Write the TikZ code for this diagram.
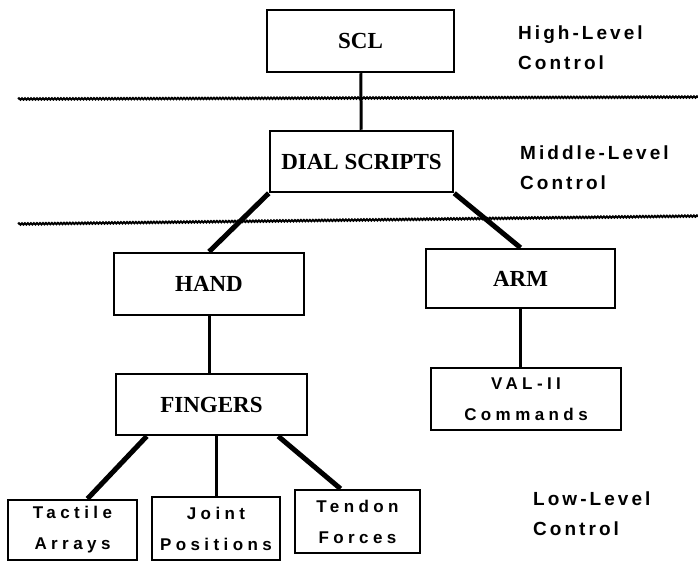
\documentclass[tikz,border=0pt]{standalone}
\usepackage{fontspec}
\setmainfont{Liberation Serif}
\newfontfamily\tierfont[LetterSpace=16]{Liberation Sans}
\newfontfamily\leaffont[LetterSpace=26]{Liberation Sans}
\usepackage{tikz}
\usetikzlibrary{decorations.pathmorphing}
\tikzstyle{block}=[rectangle,draw=black,line width=2.5pt,inner sep=0pt,font=\bfseries\fontsize{23}{26}\selectfont]
\tikzstyle{leaf}=[rectangle,draw=black,line width=2.5pt,inner sep=0pt,align=center,font=\leaffont\bfseries\fontsize{17}{31}\selectfont]
\tikzstyle{tierlabel}=[anchor=west,align=left,inner sep=0pt,font=\tierfont\bfseries\fontsize{19}{30}\selectfont]
\tikzstyle{thin link}=[line width=3pt]
\tikzstyle{heavy link}=[line width=5pt]
\tikzstyle{divider}=[line width=2pt,decorate,decoration={snake,amplitude=0.7pt,segment length=3pt}]

\begin{document}
\begin{tikzpicture}[x=1pt,y=-1pt]
        \useasboundingbox (0,0) rectangle (698,561);

        \node at (360.5,41)  [block,minimum width=187pt,minimum height=62pt] (scl)  {SCL};
        \node at (361.5,161.5) [block,minimum width=183pt,minimum height=61pt] (dial) {DIAL SCRIPTS};
        \node at (209,284)   [block,minimum width=190pt,minimum height=62pt] (hand) {HAND};
        \node at (520.5,278.5) [block,minimum width=189pt,minimum height=59pt] (arm)  {ARM};
        \node at (211.5,404.5) [block,minimum width=191pt,minimum height=61pt] (fingers) {FINGERS};
        \node at (526,399)   [leaf,minimum width=190pt,minimum height=62pt] (val) {VAL-II\\Commands};
        \node at (72.5,530)  [leaf,minimum width=129pt,minimum height=60pt] (tactile) {Tactile\\Arrays};
        \node at (216,528.5) [leaf,minimum width=128pt,minimum height=63pt] (joint) {Joint\\Positions};
        \node at (357.5,521.5) [leaf,minimum width=125pt,minimum height=63pt] (tendon) {Tendon\\Forces};

        % control levels
        \node at (518,48)  [tierlabel] (high) {High-Level\\Control};
        \node at (520,168) [tierlabel] (mid)  {Middle-Level\\Control};
        \node at (533,514) [tierlabel] (low)  {Low-Level\\Control};

        \coordinate (d1a) at (18,99);
        \coordinate (d1b) at (698,97);
        \coordinate (d2a) at (18,224);
        \coordinate (d2b) at (698,216);
        \draw [divider] (d1a) -- (d1b);
        \draw [divider] (d2a) -- (d2b);

        \draw [thin link] (scl) -- (dial);
        \draw [heavy link] (dial.south west) -- (hand.north);
        \draw [heavy link] (dial.south east) -- (arm.north);
        \draw [thin link] (hand.south) -- (hand.south |- fingers.north);
        \draw [thin link] (arm.south) -- (arm.south |- val.north);
        \draw [heavy link] ([xshift=32pt]fingers.south west) -- ([xshift=15pt]tactile.north);
        \draw [thin link] (joint.north |- fingers.south) -- (joint.north);
        \draw [heavy link] ([xshift=-30pt]fingers.south east) -- ([xshift=-17pt]tendon.north);
      \end{tikzpicture}
\end{document}
